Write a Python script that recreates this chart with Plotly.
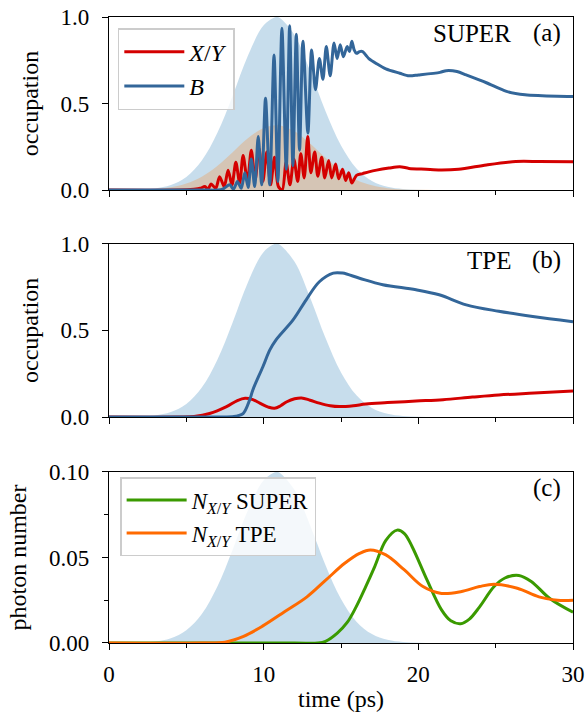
import plotly.graph_objects as go

# ---------------- data ----------------
# laser pulse envelope (normalised), sampled vs time (ps)
pulse_t = [0, 1, 2, 3, 4, 5, 6, 7, 8, 9, 10, 10.8, 11, 12, 13, 14, 15, 16, 17, 18, 19, 20, 21, 22, 30]
pulse_env = [0.0, 0.0005, 0.0026, 0.0093, 0.0285, 0.075, 0.170, 0.329, 0.547, 0.780, 0.952, 1.0, 0.997,
             0.895, 0.689, 0.455, 0.257, 0.125, 0.052, 0.0185, 0.0057, 0.0015, 0.0003, 0.0, 0.0]
# second SUPER pulse (panel a, tan)
pulse2_env = [0.0, 0.0004, 0.0018, 0.0058, 0.0157, 0.0374, 0.0772, 0.139, 0.219, 0.300, 0.359, 0.375, 0.374,
              0.340, 0.269, 0.186, 0.112, 0.0586, 0.0269, 0.0107, 0.0037, 0.0011, 0.0003, 0.0, 0.0]

# panel (a) SUPER : biexciton B
tB_a = [0, 6, 7.3, 7.8, 8.05, 8.3, 8.55, 8.78, 9.0, 9.2, 9.42, 9.65, 9.87, 10.12, 10.39, 10.67, 10.92,
        11.18, 11.46, 11.68, 11.89, 12.11, 12.32, 12.54, 12.86, 13.1, 13.35, 13.6, 13.83, 14.05, 14.3,
        14.55, 14.75, 14.95, 15.15, 15.4, 15.55, 15.7, 15.85, 16.0, 16.2, 16.4, 16.6, 16.8, 17.3, 17.9,
        18.8, 19.4, 20.0, 21.4, 21.8, 22.5, 23.1, 24.4, 25.7, 26.9, 28.0, 30.0]
B_a = [0, 0, 0.003, 0.03, 0.005, 0.05, 0.01, 0.10, 0.015, 0.18, 0.02, 0.31, 0.03, 0.53, 0.03, 0.78, 0.05,
       0.935, 0.12, 0.95, 0.14, 0.90, 0.23, 0.86, 0.33, 0.81, 0.58, 0.76, 0.64, 0.83, 0.66,
       0.85, 0.76, 0.84, 0.77, 0.83, 0.80, 0.86, 0.81, 0.79, 0.80, 0.80, 0.78, 0.76, 0.73, 0.70,
       0.675, 0.66, 0.665, 0.68, 0.69, 0.685, 0.665, 0.62, 0.57, 0.55, 0.545, 0.54]

# panel (a) SUPER : exciton X/Y
tX_a = [0, 4.5, 5.5, 5.9, 6.2, 6.4, 6.6, 6.9, 7.15, 7.45, 7.7, 7.95, 8.2, 8.45, 8.67, 8.95, 9.2, 9.45,
        9.7, 9.95, 10.2, 10.45, 10.7, 10.95, 11.2, 11.45, 11.7, 11.95, 12.2, 12.4, 12.62, 12.85, 13.05,
        13.3, 13.5, 13.75, 13.95, 14.2, 14.4, 14.65, 14.85, 15.1, 15.3, 15.5, 15.7, 16.0, 16.4, 16.8,
        17.3, 18.1, 18.8, 19.4, 20.5, 21.4, 22.6, 24.4, 26.3, 27.8, 30.0]
X_a = [0, 0, 0.005, 0.01, 0.02, 0.005, 0.035, 0.01, 0.077, 0.02, 0.115, 0.03, 0.16, 0.04, 0.20, 0.05, 0.23, 0.06,
       0.24, 0.05, 0.22, 0.03, 0.19, 0.02, 0.0, 0.16, 0.03, 0.18, 0.05, 0.21, 0.07, 0.31, 0.10,
       0.22, 0.08, 0.19, 0.07, 0.17, 0.07, 0.15, 0.065, 0.12, 0.055, 0.10, 0.04, 0.085, 0.095, 0.105,
       0.115, 0.127, 0.135, 0.125, 0.12, 0.116, 0.12, 0.145, 0.165, 0.165, 0.163]

# panel (b) TPE
tB_b = [0, 6, 7.5, 8.2, 8.67, 9.1, 9.3, 9.95, 10.4, 10.8, 11.9, 12.75, 13.6, 14.5, 15.1, 16.2, 17.7,
        19.85, 21.35, 23.1, 25.2, 27.4, 30]
B_b = [0, 0, 0, 0.005, 0.02, 0.10, 0.156, 0.29, 0.387, 0.445, 0.56, 0.676, 0.78, 0.83, 0.83, 0.80, 0.763,
       0.734, 0.705, 0.647, 0.61, 0.58, 0.55]
tX_b = [0, 4.5, 5.5, 6.5, 7.6, 8.3, 8.8, 9.3, 9.75, 10.3, 10.7, 11.1, 11.5, 12.0, 12.45, 13.0, 13.6,
        14.3, 14.9, 15.8, 16.6, 18.0, 19.85, 21.6, 23.5, 25.2, 27.5, 30]
X_b = [0, 0, 0.003, 0.02, 0.06, 0.095, 0.108, 0.10, 0.08, 0.057, 0.05, 0.065, 0.088, 0.105, 0.110, 0.097,
       0.08, 0.065, 0.06, 0.065, 0.075, 0.083, 0.092, 0.10, 0.115, 0.127, 0.138, 0.15]

# panel (c) photon numbers
tN_super = [0, 12, 13.5, 14.0, 14.76, 15.4, 15.97, 16.6, 17.18, 17.9, 18.63, 19.1, 19.6, 20.56, 21.5,
            22.1, 22.74, 23.3, 23.95, 24.9, 25.6, 26.5, 27.3, 28.5, 30]
N_super = [0, 0, 0, 0.001, 0.0058, 0.012, 0.021, 0.033, 0.0447, 0.060, 0.066, 0.064, 0.0563, 0.0369, 0.0194,
           0.013, 0.0113, 0.014, 0.021, 0.033, 0.038, 0.0395, 0.036, 0.026, 0.018]
tN_tpe = [0, 6, 7.5, 8.7, 9.9, 11.37, 12.8, 14.03, 15.24, 16.2, 16.9, 17.9, 19.1, 20.3, 21.5, 22.74,
          23.95, 24.9, 26.4, 27.8, 29, 30]
N_tpe = [0, 0, 0.0005, 0.0039, 0.0097, 0.0184, 0.027, 0.0369, 0.0466, 0.0524, 0.0544, 0.0515, 0.0427,
         0.033, 0.029, 0.030, 0.033, 0.0344, 0.032, 0.027, 0.025, 0.025]

pulse_scale = [1.0, 1.0, 0.1]   # pulse height in each panel

# ---------------- style ----------------
FONT = "Liberation Serif, Times New Roman, serif"
C_RED = "#d40000"
C_BLUE = "#336699"
C_GREEN = "#3a9a00"
C_ORANGE = "#ff6a00"
FILL_BLUE = "rgba(31,119,180,0.25)"
FILL_TAN = "rgba(255,127,14,0.25)"
LW = 3.0

fig = go.Figure()

axes = [("x", "y"), ("x2", "y2"), ("x3", "y3")]

for i, (xa, ya) in enumerate(axes):
    fig.add_trace(go.Scatter(x=pulse_t, y=[v * pulse_scale[i] for v in pulse_env], mode="lines",
                             line=dict(width=0, shape="spline"), fill="tozeroy", fillcolor=FILL_BLUE,
                             showlegend=False, hoverinfo="skip", xaxis=xa, yaxis=ya))
fig.add_trace(go.Scatter(x=pulse_t, y=pulse2_env, mode="lines", line=dict(width=0, shape="spline"),
                         fill="tozeroy", fillcolor=FILL_TAN, showlegend=False, hoverinfo="skip",
                         xaxis="x", yaxis="y"))

# panel a
fig.add_trace(go.Scatter(x=tX_a, y=X_a, mode="lines", line=dict(color=C_RED, width=LW, shape="spline", smoothing=0.8),
                         name="<i>X</i>/<i>Y</i>", legend="legend", xaxis="x", yaxis="y"))
fig.add_trace(go.Scatter(x=tB_a, y=B_a, mode="lines", line=dict(color=C_BLUE, width=LW, shape="spline", smoothing=0.8),
                         name="<i>B</i>", legend="legend", xaxis="x", yaxis="y"))
# panel b
fig.add_trace(go.Scatter(x=tX_b, y=X_b, mode="lines", line=dict(color=C_RED, width=LW, shape="spline"),
                         showlegend=False, xaxis="x2", yaxis="y2"))
fig.add_trace(go.Scatter(x=tB_b, y=B_b, mode="lines", line=dict(color=C_BLUE, width=LW, shape="spline"),
                         showlegend=False, xaxis="x2", yaxis="y2"))
# panel c
fig.add_trace(go.Scatter(x=tN_super, y=N_super, mode="lines", line=dict(color=C_GREEN, width=LW, shape="spline"),
                         name="<i>N</i><sub><i>X</i>/<i>Y</i></sub> SUPER", legend="legend2",
                         xaxis="x3", yaxis="y3"))
fig.add_trace(go.Scatter(x=tN_tpe, y=N_tpe, mode="lines", line=dict(color=C_ORANGE, width=LW, shape="spline"),
                         name="<i>N</i><sub><i>X</i>/<i>Y</i></sub> TPE", legend="legend2",
                         xaxis="x3", yaxis="y3"))

TICKFONT = dict(family=FONT, size=23, color="black")
common = dict(showline=True, mirror=True, linecolor="black", linewidth=1.3, ticks="outside",
              ticklen=6, tickwidth=1.3, tickcolor="black", showgrid=False, zeroline=False,
              tickfont=TICKFONT, automargin=False)

xcommon = dict(common, range=[0, 30], tick0=0, dtick=10, ticklabelstandoff=4,
               minor=dict(ticks="outside", ticklen=4, tickwidth=1.1, tickcolor="black", dtick=5, tick0=0))
ycommon = dict(common, ticklabelstandoff=8)

dom = [[0.7236, 1.0], [0.361, 0.638], [0.0, 0.2732]]
TITLEFONT = dict(family=FONT, size=24)

fig.update_layout(
    width=587, height=719,
    margin=dict(l=109, r=14, t=17, b=76),
    plot_bgcolor="white", paper_bgcolor="white",
    font=dict(family=FONT, size=23, color="black"),
    xaxis=dict(xcommon, anchor="y", domain=[0, 1], showticklabels=False),
    xaxis2=dict(xcommon, anchor="y2", domain=[0, 1], showticklabels=False),
    xaxis3=dict(xcommon, anchor="x3" if False else "y3", domain=[0, 1],
                title=dict(text="time (ps)", font=TITLEFONT, standoff=4)),
    yaxis=dict(ycommon, anchor="x", domain=dom[0], range=[0, 1.0], tickvals=[0, 0.5, 1.0],
               tickformat=".1f", title=dict(text="occupation", font=TITLEFONT)),
    yaxis2=dict(ycommon, anchor="x2", domain=dom[1], range=[0, 1.0], tickvals=[0, 0.5, 1.0],
                tickformat=".1f", title=dict(text="occupation", font=TITLEFONT)),
    yaxis3=dict(ycommon, anchor="x3", domain=dom[2], range=[0, 0.1], tick0=0, dtick=0.05,
                tickformat=".2f",
                minor=dict(ticks="outside", ticklen=4, tickwidth=1.1, tickcolor="black", dtick=0.025, tick0=0),
                title=dict(text="photon number", font=TITLEFONT)),
    legend=dict(x=0.019, y=0.982, xanchor="left", yanchor="top", bgcolor="rgba(255,255,255,0.8)",
                bordercolor="#cccccc", borderwidth=1.5, font=dict(family=FONT, size=24),
                itemwidth=60, tracegroupgap=0),
    legend2=dict(x=0.024, y=0.265, xanchor="left", yanchor="top", bgcolor="rgba(255,255,255,0.8)",
                 bordercolor="#cccccc", borderwidth=1.5, font=dict(family=FONT, size=23),
                 itemwidth=60, tracegroupgap=0),
)

ann_font = dict(family=FONT, size=25, color="black")
labels = [("SUPER", 0.871, "y"), ("(a)", 0.978, "y"), ("TPE", 0.871, "y2"), ("(b)", 0.978, "y2"),
          ("(c)", 0.978, "y3")]
for txt, xx, yref in labels:
    xr = {"y": "x", "y2": "x2", "y3": "x3"}[yref]
    fig.add_annotation(text=txt, x=xx, y=0.905, xref=xr + " domain", yref=yref + " domain",
                       xanchor="right", yanchor="middle", showarrow=False, font=ann_font)

fig.write_html("out.html")
